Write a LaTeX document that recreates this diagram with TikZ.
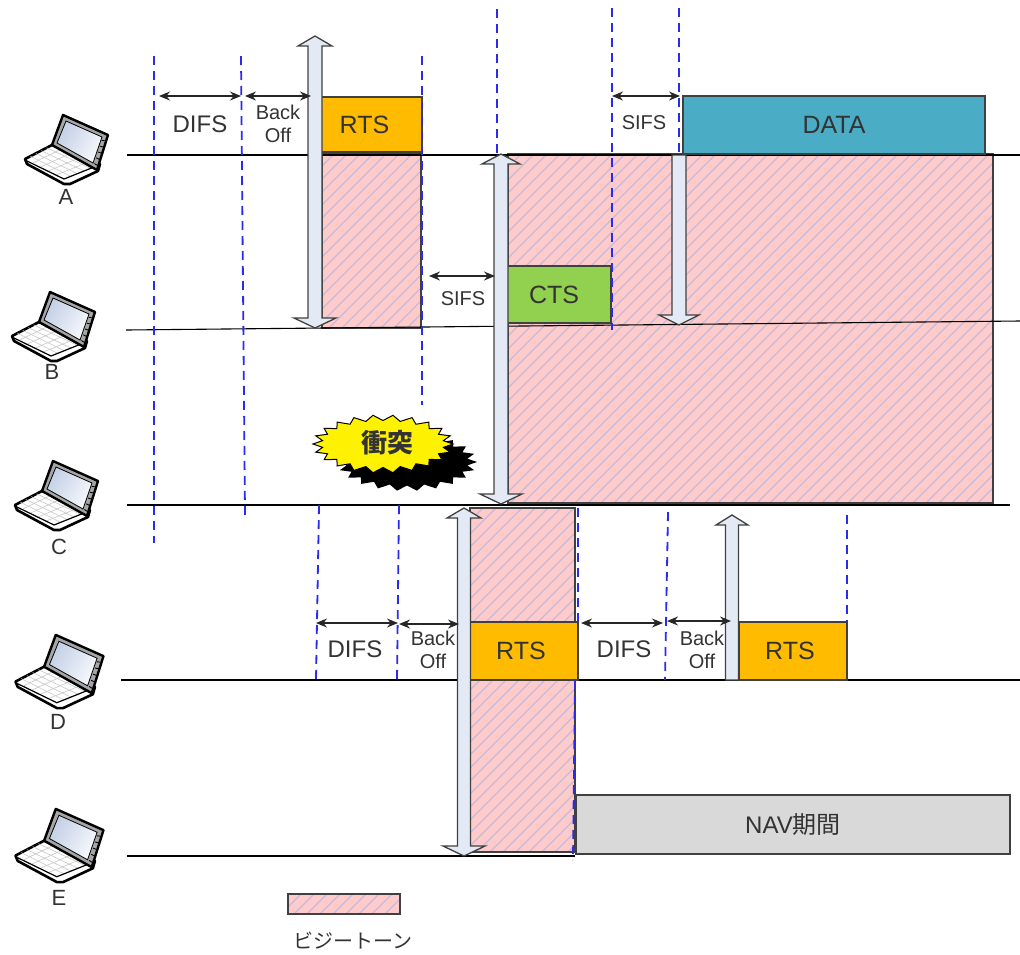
\documentclass[tikz,border=0pt]{standalone}
\usepackage{fontspec}
\setmainfont{Liberation Sans}
\newfontfamily\cjk{Noto Sans CJK JP}
\usetikzlibrary{arrows.meta,calc}
\definecolor{pinkfill}{HTML}{FFCACA}
\definecolor{hatchline}{HTML}{C4BADB}
\definecolor{edgegray}{HTML}{404040}
\definecolor{txt}{HTML}{333333}
\definecolor{arrowfill}{HTML}{E4EAF5}
\definecolor{dashblue}{HTML}{2A2AF0}
\definecolor{rtsfill}{HTML}{FFBB00}
\definecolor{screenA}{HTML}{C4D0E6}
\definecolor{screenB}{HTML}{F6F8FC}
\tikzset{
  timeline/.style={draw=black,line width=1.1pt},
  vdash/.style={draw=dashblue,line width=1.8pt,dash pattern=on 9pt off 6pt},
  span/.style={draw=black!85,line width=1.3pt,{Stealth[length=11pt,width=9pt]}-{Stealth[length=11pt,width=9pt]}},
  bigarrow/.style={draw=edgegray,line width=1.3pt,fill=arrowfill,line join=miter},
  frame/.style={draw=edgegray,line width=1.3pt,inner sep=0pt,outer sep=0pt,text=txt},
  lab/.style={text=txt,inner sep=0pt,font=\fontsize{#1}{#1}\selectfont},
  lab/.default=24pt,
  laptop/.pic={
    % base
    \path[draw=black,line width=2.6pt,fill=white,line join=round]
      (-15,-5)--(-42,9)--(-40,14)--(-3,34)--(3,34)--(31,21)--(33,14)--cycle;
    \foreach \t in {0.2,0.4,0.6,0.8}{
      \draw[black!22,line width=.6pt] ($(-15,-5)!\t!(-42,9)$)--($(31,16)!\t!(-3,29)$);
      \draw[black!22,line width=.6pt] ($(-15,-5)!\t!(31,16)$)--($(-42,9)!\t!(-3,29)$);
    }
    \draw[black,line width=1.2pt] (-40,11)--(-3,29)--(32,15);
    % lid
    \path[draw=black,line width=2.4pt,fill=black!35,line join=round]
      (-4,-35)--(41,-15)--(30,20)--(-15,-5)--cycle;
    \path[left color=screenA,right color=screenB,shading angle=60,draw=black,line width=.8pt]
      (-1,-29)--(35,-13)--(26,13)--(-10,-7)--cycle;
    \foreach \t in {0.15,0.35,0.55,0.75,0.95}{
      \draw[black,line width=.9pt] ($(36,-14)!\t!(27,15)$)--($(39,-14)!\t!(30,17)$);
    }
  }
}
\newcommand{\hatchrect}[4]{% x1 y1 x2 y2
  \fill[pinkfill] (#1,#2) rectangle (#3,#4);
  \begin{scope}
    \clip (#1,#2) rectangle (#3,#4);
    \pgfmathsetmacro{\hh}{#4-#2}
    \pgfmathsetmacro{\xb}{#1+13}
    \pgfmathsetmacro{\xc}{#3+\hh+13}
    \foreach \i in {#1,\xb,...,\xc}{
      \draw[hatchline,line width=1.2pt] (\i,#2)--(\i-\hh,#4);
    }
  \end{scope}
  \draw[edgegray,line width=1.3pt] (#1,#2) rectangle (#3,#4);
}
\newcommand{\dblarrow}[7]{% cx ytop ybot halfshaft halfheadTop halfheadBot headlen
  \path[bigarrow] (#1,#2)--(#1+#5,#2+#7)--(#1+#4,#2+#7)--(#1+#4,#3-#7)--(#1+#6,#3-#7)--(#1,#3)
    --(#1-#6,#3-#7)--(#1-#4,#3-#7)--(#1-#4,#2+#7)--(#1-#5,#2+#7)--cycle;
}
\newcommand{\downarrowbig}[6]{% cx ytop ybot halfshaft halfhead headlen
  \path[bigarrow] (#1-#4,#2)--(#1+#4,#2)--(#1+#4,#3-#6)--(#1+#5,#3-#6)--(#1,#3)
    --(#1-#5,#3-#6)--(#1-#4,#3-#6)--cycle;
}
\newcommand{\uparrowbig}[6]{% cx ytop ybot halfshaft halfhead headlen
  \path[bigarrow] (#1-#4,#3)--(#1+#4,#3)--(#1+#4,#2+#6)--(#1+#5,#2+#6)--(#1,#2)
    --(#1-#5,#2+#6)--(#1-#4,#2+#6)--cycle;
}
\begin{document}
\begin{tikzpicture}[x=1pt,y=-1pt]
\useasboundingbox (0,0) rectangle (1020,954);

% busy-tone areas
\hatchrect{508}{154}{993}{503}
\hatchrect{322}{153}{421}{328}
\hatchrect{470}{508}{575}{852}

% time lines
\coordinate (Al) at (127,155); \coordinate (Ar) at (1020,155);
\coordinate (Bl) at (126,330); \coordinate (Br) at (1020,321);
\coordinate (Cl) at (127,505); \coordinate (Cr) at (1010,505);
\coordinate (Dl) at (121,680); \coordinate (Dr) at (1020,680);
\coordinate (El) at (127,856); \coordinate (Er) at (575,856);
\draw[timeline] (Al)--(Ar);
\draw[timeline] (Bl)--(Br);
\draw[timeline] (Cl)--(Cr);
\draw[timeline] (Dl)--(Dr);
\draw[timeline] (El)--(Er);

% frames
\node[frame,fill=rtsfill,minimum width=101pt,minimum height=55pt,font=\fontsize{25pt}{25pt}\selectfont] (rtsA) at (371.5,124.5) {\hspace{-14pt}RTS};
\node[frame,fill={rgb,255:red,75;green,172;blue,198},minimum width=302pt,minimum height=58pt,font=\fontsize{25pt}{25pt}\selectfont] (data) at (834,125) {DATA};
\node[frame,fill={rgb,255:red,146;green,208;blue,80},minimum width=104pt,minimum height=57pt,font=\fontsize{25pt}{25pt}\selectfont] (cts) at (559,294.5) {\hspace{-10pt}CTS};
\node[frame,fill=rtsfill,minimum width=108pt,minimum height=58pt,font=\fontsize{25pt}{25pt}\selectfont] (rtsD) at (524,651) {\hspace{-6pt}RTS};
\node[frame,fill=rtsfill,minimum width=108pt,minimum height=58pt,font=\fontsize{25pt}{25pt}\selectfont] (rtsDb) at (793,651) {\hspace{-6pt}RTS};
\node[frame,fill=black!15,minimum width=434pt,minimum height=59pt,font=\fontsize{24pt}{24pt}\selectfont] (nav) at (793,824.5) {NAV{\cjk 期間}};

% dashed timing guides
\draw[vdash] (154,56)--(154,543);
\draw[vdash] (241,56)--(245,515);
\draw[vdash] (422,56)--(422,405);
\draw[vdash] (497,9)--(497,160);
\draw[vdash] (612,8)--(612,330);
\draw[vdash] (679,8)--(679,155);
\draw[vdash] (319,505)--(316,680);
\draw[vdash] (399,505)--(397,680);
\draw[vdash] (578,508)--(578,622);
\draw[vdash] (575,680)--(573,860);
\draw[vdash] (668,512)--(665,680);
\draw[vdash] (847,515)--(847,622);

% tone arrows
\dblarrow{315}{36}{328}{7}{17}{21}{10}
\dblarrow{501}{154}{504}{7}{19}{21}{10}
\downarrowbig{679}{155}{325}{7}{20}{10}
\dblarrow{464}{508}{856}{6.5}{17}{21}{10}
\uparrowbig{732}{515}{680}{6.5}{16}{10}

% time spans
\coordinate (s1a) at (159,96); \coordinate (s1b) at (241,96);
\coordinate (s2a) at (245,96); \coordinate (s2b) at (311,96);
\coordinate (s3a) at (429,276); \coordinate (s3b) at (495,276);
\coordinate (s4a) at (612,96); \coordinate (s4b) at (680,96);
\coordinate (s5a) at (316,623); \coordinate (s5b) at (398,623);
\coordinate (s6a) at (399,624); \coordinate (s6b) at (459,624);
\coordinate (s7a) at (581,623); \coordinate (s7b) at (663,623);
\coordinate (s8a) at (667,621); \coordinate (s8b) at (731,621);
\foreach \n in {1,...,8}{ \draw[span] (s\n a)--(s\n b); }

% span labels
\node[lab=24pt] (t1) at (200,124) {DIFS};
\node[lab=20pt,align=center] (t2) at (278,124) {Back\\[3pt]Off};
\node[lab=20pt] (t3) at (463,299) {SIFS};
\node[lab=20pt] (t4) at (644,123) {SIFS};
\node[lab=24pt] (t5) at (355,649) {DIFS};
\node[lab=20pt,align=center] (t6) at (433,650) {Back\\[3pt]Off};
\node[lab=24pt] (t7) at (624,649) {DIFS};
\node[lab=20pt,align=center] (t8) at (702,650) {Back\\[3pt]Off};

% collision burst
\fill[black] plot[samples at={0,...,43}] ({407+(70-9*mod(\x,2))*cos(\x*360/44)},{462+(29-5.5*mod(\x,2))*sin(\x*360/44)}) -- cycle;
\draw[black,line width=1pt,fill=yellow] plot[samples at={0,...,43}] ({383+(70-9*mod(\x,2))*cos(\x*360/44)},{444+(29-5.5*mod(\x,2))*sin(\x*360/44)}) -- cycle;
\node[inner sep=0pt,text=black!80,font=\fontsize{26pt}{26pt}\selectfont\cjk\bfseries] (clash) at (387,443) {衝突};

% stations
\pic (lapA) at (67,150) {laptop};
\pic (lapB) at (54,327) {laptop};
\pic (lapC) at (57,496) {laptop};
\pic[scale=1.06] (lapD) at (60,672) {laptop};
\pic[scale=1.06] (lapE) at (60,846) {laptop};
\node[lab=22pt] (nA) at (66,197) {A};
\node[lab=22pt] (nB) at (52,372) {B};
\node[lab=22pt] (nC) at (59,547) {C};
\node[lab=22pt] (nD) at (58,722) {D};
\node[lab=22pt] (nE) at (59,898) {E};

% legend
\hatchrect{288}{894}{400}{914}
\node[inner sep=0pt,text=txt,font=\fontsize{20pt}{20pt}\selectfont\cjk] (legend) at (353,941) {ビジートーン};
\end{tikzpicture}
\end{document}
